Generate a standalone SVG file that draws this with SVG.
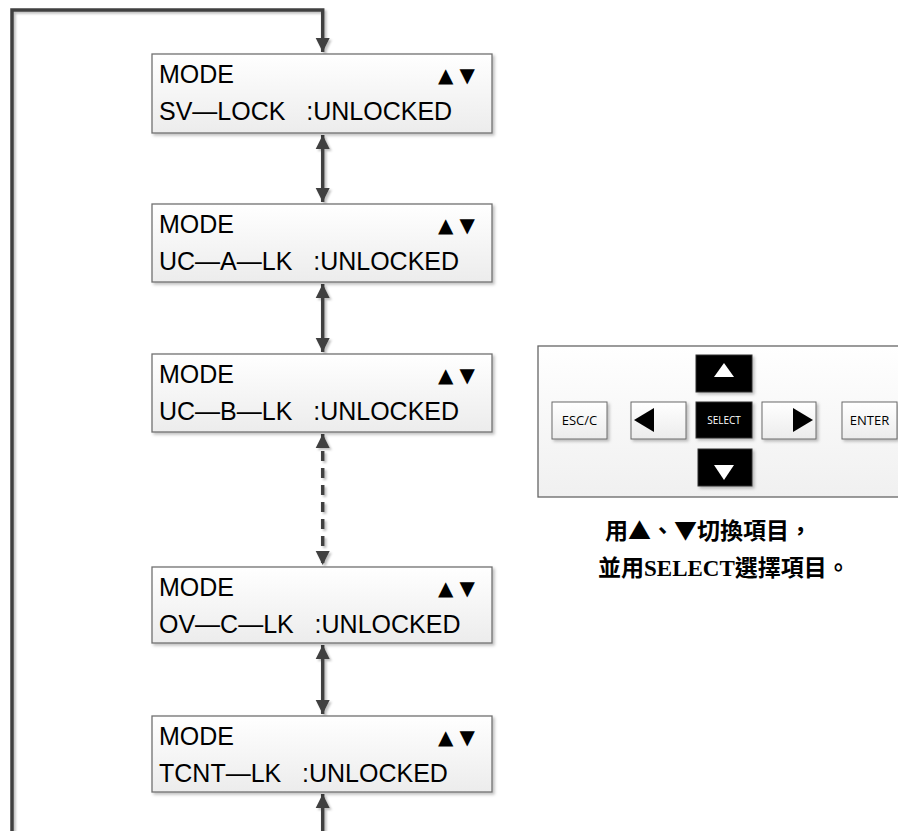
<svg xmlns="http://www.w3.org/2000/svg" width="898" height="831" viewBox="0 0 898 831">
<defs>
<linearGradient id="boxg" x1="0" y1="0" x2="0" y2="1">
<stop offset="0" stop-color="#ffffff"/><stop offset="1" stop-color="#ececec"/>
</linearGradient>
<linearGradient id="pang" x1="0" y1="0" x2="0" y2="1">
<stop offset="0" stop-color="#ffffff"/><stop offset="1" stop-color="#f0f0f0"/>
</linearGradient>
<filter id="sh" x="-10%" y="-10%" width="130%" height="130%">
<feDropShadow dx="2" dy="2" stdDeviation="1.5" flood-color="#000" flood-opacity="0.25"/>
</filter>
<filter id="shl" filterUnits="userSpaceOnUse" x="0" y="0" width="898" height="831">
<feDropShadow dx="2" dy="2" stdDeviation="1.2" flood-color="#000" flood-opacity="0.25"/>
</filter>
<marker id="ah" markerUnits="userSpaceOnUse" markerWidth="16" markerHeight="16" viewBox="0 0 16 16" refX="14" refY="8" orient="auto-start-reverse">
<path d="M0,1 L14,8 L0,15 Z" fill="#404040"/>
</marker>
<style>
.box{fill:url(#boxg);stroke:#707070;stroke-width:1.3;filter:url(#sh)}
.t{font-family:"Liberation Sans",Arial,sans-serif;font-size:25px;fill:#000;white-space:pre}
.tri{font-family:"DejaVu Sans",sans-serif;font-size:20px;fill:#000;letter-spacing:6px}
.con{fill:none;stroke:#404040;stroke-width:3.5}
.btn{fill:url(#boxg);stroke:#6a6a6a;stroke-width:1;filter:url(#sh)}
.bk{fill:#000;stroke:#333;stroke-width:1;filter:url(#sh)}
.bt{font-family:"Open Sans","Noto Sans",sans-serif;font-size:13px;fill:#000;text-anchor:middle}
.cn{font-family:"Noto Sans CJK TC","Noto Sans CJK SC",sans-serif;font-size:23px;font-weight:bold;fill:#000}
.lat{font-family:"Liberation Serif","Times New Roman",serif}
</style>
</defs>

<g id="connectors" filter="url(#shl)">
<path class="con" d="M12,831 V10 H322.7 V52" marker-end="url(#ah)"/>
<path class="con" d="M322.7,135 V202" marker-start="url(#ah)" marker-end="url(#ah)"/>
<path class="con" d="M322.7,284 V352" marker-start="url(#ah)" marker-end="url(#ah)"/>
<path class="con" d="M322.7,434 V565" stroke-dasharray="10,7" marker-start="url(#ah)" marker-end="url(#ah)"/>
<path class="con" d="M322.7,645 V714" marker-start="url(#ah)" marker-end="url(#ah)"/>
<path class="con" d="M322.7,831 V794" marker-end="url(#ah)"/>
</g>

<g id="n1">
<rect class="box" x="152" y="54" width="340" height="79"/>
<text class="t" x="159" y="83">MODE</text>
<text class="tri" x="438" y="82">▲▼</text>
<text class="t" x="159" y="120">SV—LOCK   :UNLOCKED</text>
</g>
<g id="n2">
<rect class="box" x="152" y="204" width="340" height="78"/>
<text class="t" x="159" y="233">MODE</text>
<text class="tri" x="438" y="232">▲▼</text>
<text class="t" x="159" y="270">UC—A—LK   :UNLOCKED</text>
</g>
<g id="n3">
<rect class="box" x="152" y="354" width="340" height="78"/>
<text class="t" x="159" y="383">MODE</text>
<text class="tri" x="438" y="382">▲▼</text>
<text class="t" x="159" y="420">UC—B—LK   :UNLOCKED</text>
</g>
<g id="n4">
<rect class="box" x="152" y="567" width="340" height="76"/>
<text class="t" x="159" y="596">MODE</text>
<text class="tri" x="438" y="595">▲▼</text>
<text class="t" x="159" y="633">OV—C—LK   :UNLOCKED</text>
</g>
<g id="n5">
<rect class="box" x="152" y="716" width="340" height="76"/>
<text class="t" x="159" y="745">MODE</text>
<text class="tri" x="438" y="744">▲▼</text>
<text class="t" x="159" y="782">TCNT—LK   :UNLOCKED</text>
</g>

<g id="keypad">
<rect x="538" y="346" width="370" height="151" fill="url(#pang)" stroke="#666" stroke-width="1.3"/>
<rect class="bk" x="696" y="355" width="56" height="37"/>
<polygon points="714,377 724,363 734,377" fill="#fff"/>
<rect class="btn" x="552" y="402" width="55" height="37"/>
<text class="bt" x="579.5" y="425">ESC/C</text>
<rect class="btn" x="631" y="402" width="55" height="37"/>
<polygon points="634,420 654,408 654,432" fill="#000"/>
<rect class="bk" x="696" y="402" width="56" height="36"/>
<text class="bt" x="724" y="424" style="fill:#fff;font-size:10px">SELECT</text>
<rect class="btn" x="762" y="402" width="54" height="37"/>
<polygon points="813,420 793,408 793,432" fill="#000"/>
<rect class="btn" x="842" y="402" width="55" height="37"/>
<text class="bt" x="869.5" y="425">ENTER</text>
<rect class="bk" x="698" y="449" width="54" height="37"/>
<polygon points="714,465 734,465 724,480" fill="#fff"/>
</g>

<g id="note">
<text class="cn" x="605" y="539">用▲、▼切換項目，</text>
<text class="cn" x="598" y="576">並用<tspan class="lat">SELECT</tspan>選擇項目。</text>
</g>
</svg>
